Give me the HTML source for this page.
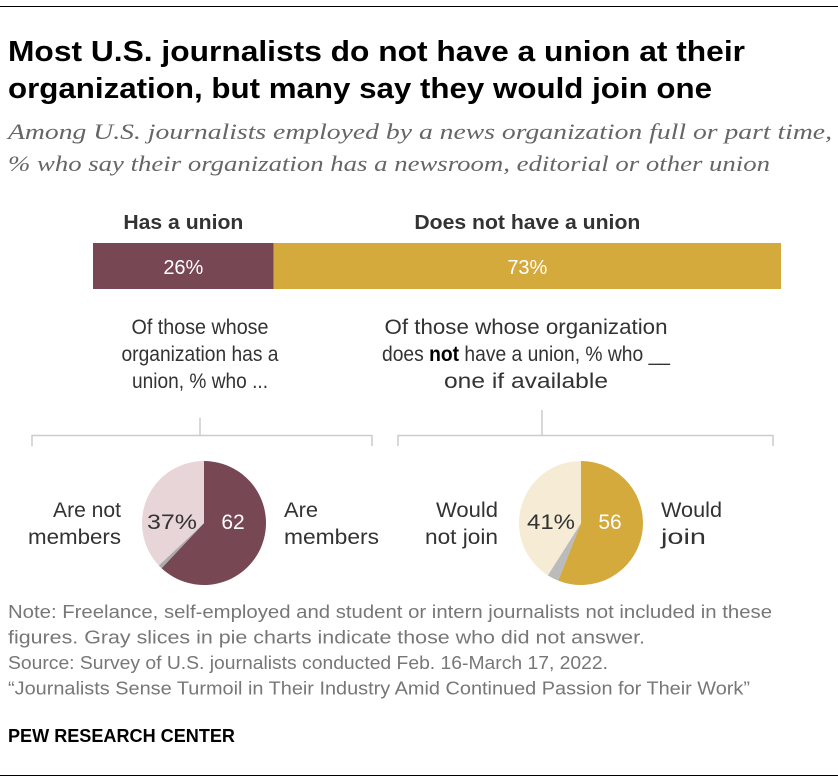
<!DOCTYPE html>
<html><head><meta charset="utf-8"><style>
body{margin:0;background:#fff;font-family:"Liberation Sans",sans-serif;}
#c{position:relative;width:838px;height:784px;overflow:hidden}
</style></head><body>
<div id="c">
<svg id="s" width="838" height="784" style="position:absolute;left:0;top:0"></svg>
</div>
<script>
const barCats=["Has a union","Does not have a union"];
const barVals=[26,73];
const pie1Vals=[62,1,37];
const pie2Vals=[56,3,41];
const ns="http://www.w3.org/2000/svg",s=document.getElementById('s');
function el(t,a,p){const e=document.createElementNS(ns,t);for(const k in a)e.setAttribute(k,a[k]);(p||s).appendChild(e);return e;}
function txt(x,y,str,o,len){const a=Object.assign({x:x,y:y,'font-size':21,fill:'#333','font-family':'Liberation Sans, sans-serif'},o||{});if(len){a.textLength=len;a.lengthAdjust='spacingAndGlyphs';}const e=el('text',a);e.innerHTML=str;return e;}
function named(e,n){return e;}
named(el('rect',{x:0,y:6,width:838,height:1,fill:'#000'}),'top-rule');
named(el('rect',{x:0,y:775,width:838,height:1,fill:'#000'}),'bottom-rule');
named(txt(8,61,'Most U.S. journalists do not have a union at their',{'font-size':29,'font-weight':'bold',fill:'#000'},737),'title');
named(txt(8,98,'organization, but many say they would join one',{'font-size':29,'font-weight':'bold',fill:'#000'},704),'title');
const sub={'font-size':22,'font-style':'italic',fill:'#666','font-family':'Liberation Serif, serif'};
named(txt(8,139,'Among U.S. journalists employed by a news organization full or part time,',sub,824),'subtitle');
named(txt(8,171,'% who say their organization has a newsroom, editorial or other union',sub,762),'subtitle');
// bar
const bx0=93,bw=688,tot=barVals[0]+barVals[1];const xs=v=>bx0+v/tot*bw;
const bcol=["#774853","#d4aa3d"];const catLen=[120,226];let acc=0;
barVals.forEach((v,i)=>{const x=xs(acc),w=xs(acc+v)-x;
const r=el('rect',{x:x,y:243,width:w,height:46,fill:bcol[i]});


const t=txt(x+w/2,274,v+'%',{fill:'#fff','text-anchor':'middle','font-size':20});


const c=txt(x+w/2,229,barCats[i],{'font-weight':'bold',fill:'#333','text-anchor':'middle','font-size':20},catLen[i]);


acc+=v;});
function multi(x,y,lines,anchor,name,lens){lines.forEach((l,i)=>{const t=txt(x,y+i*27,l,{'text-anchor':anchor},lens[i]);});}
multi(200,334,["Of those whose","organization has a","union, % who ..."],'middle','left-intro',[137,157,136]);
multi(526,334,["Of those whose organization","does <tspan font-weight='bold' fill='#000'>not</tspan> have a union, % who __","one if available"],'middle','right-intro',[283,288,164]);
const g='#ccc';
[[32,372,200,418],[398,773,542,410]].forEach(b=>{named(el('path',{d:`M${b[0]},446V435.5H${b[1]}V446M${b[2]},435.5V${b[3]}`,stroke:g,'stroke-width':1.5,fill:'none'}),'bracket');});
function pie(cx,cy,r,vals,cols,name){let a=0;const t=vals.reduce((p,q)=>p+q,0);
vals.forEach((v,i)=>{const a0=a/t*2*Math.PI,a1=(a+v)/t*2*Math.PI;a+=v;
const x0=cx+r*Math.sin(a0),y0=cy-r*Math.cos(a0),x1=cx+r*Math.sin(a1),y1=cy-r*Math.cos(a1);
const p=el('path',{d:`M${cx},${cy}L${x0},${y0}A${r},${r} 0 ${a1-a0>Math.PI?1:0} 1 ${x1},${y1}Z`,fill:cols[i]});

});}
pie(204,523,62,pie1Vals,["#774853","#aaa","#e8d5d8"],'members-pie');
pie(581,523,62,pie2Vals,["#d4aa3d","#bbb","#f6ecd6"],'join-pie');
named(txt(233,529,pie1Vals[0],{fill:'#fff','text-anchor':'middle'}),'pie1-value');
named(txt(172,529,pie1Vals[2]+'%',{'text-anchor':'middle'},50),'pie1-value');
named(txt(610,529,pie2Vals[0],{fill:'#fff','text-anchor':'middle'}),'pie2-value');
named(txt(551,529,pie2Vals[2]+'%',{'text-anchor':'middle'},48),'pie2-value');
multi(121,517,["Are not","members"],'end','pie1-left-label',[68,93]);
multi(284,517,["Are","members"],'start','pie1-right-label',[34,95]);
multi(498,517,["Would","not join"],'end','pie2-left-label',[62,73]);
multi(661,517,["Would","join"],'start','pie2-right-label',[61,45]);
const nt={'font-size':18,fill:'#777'};
const notes=["Note: Freelance, self-employed and student or intern journalists not included in these","figures. Gray slices in pie charts indicate those who did not answer.","Source: Survey of U.S. journalists conducted Feb. 16-March 17, 2022.","“Journalists Sense Turmoil in Their Industry Amid Continued Passion for Their Work”"];
const nl=[764,637,600,742];
notes.forEach((n,i)=>named(txt(8,618+i*25.5,n,nt,nl[i]),'note'));
named(txt(8,742,'PEW RESEARCH CENTER',{'font-size':18,'font-weight':'bold',fill:'#000'},227),'source-label');
</script>
</body></html>
